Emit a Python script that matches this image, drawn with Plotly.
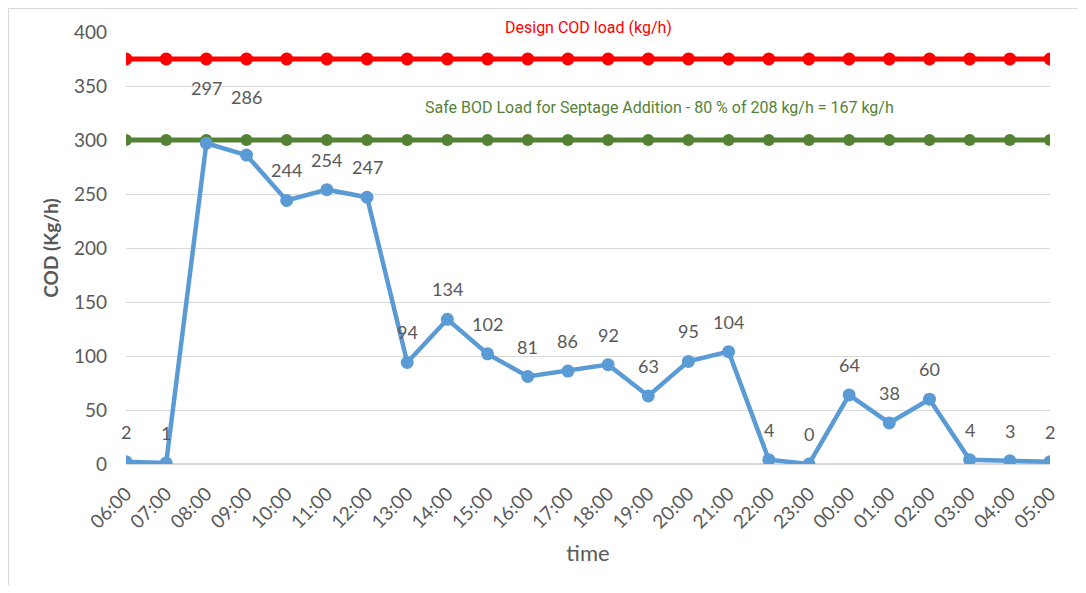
import plotly.graph_objects as go

# hourly COD load readings
times = ["06:00", "07:00", "08:00", "09:00", "10:00", "11:00", "12:00", "13:00",
         "14:00", "15:00", "16:00", "17:00", "18:00", "19:00", "20:00", "21:00",
         "22:00", "23:00", "00:00", "01:00", "02:00", "03:00", "04:00", "05:00"]
cod = [2, 1, 297, 286, 244, 254, 247, 94, 134, 102, 81, 86, 92, 63, 95, 104,
       4, 0, 64, 38, 60, 4, 3, 2]
design_load = [375] * len(times)
safe_load = [300] * len(times)
# label lifts (px) - two labels were dragged up in the original
label_lift = [30] * len(times)
label_lift[2] = 55
label_lift[3] = 58

grey = "#595959"
base_font = "Lato, Calibri, sans-serif"

fig = go.Figure()

fig.add_trace(go.Scatter(x=times, y=design_load, mode="lines+markers",
                         line=dict(color="#FF0000", width=5),
                         marker=dict(color="#FF0000", size=13),
                         showlegend=False))
fig.add_trace(go.Scatter(x=times, y=safe_load, mode="lines+markers",
                         line=dict(color="#548235", width=5),
                         marker=dict(color="#548235", size=12),
                         showlegend=False))
fig.add_trace(go.Scatter(x=times, y=cod, mode="lines+markers",
                         line=dict(color="#5B9BD5", width=4.5),
                         marker=dict(color="#5B9BD5", size=13),
                         showlegend=False))

for t, v, lift in zip(times, cod, label_lift):
    fig.add_annotation(x=t, y=v, text=str(v), showarrow=False, yshift=lift,
                       font=dict(family=base_font, size=18, color=grey))

fig.add_annotation(x=0.5, y=1.0, xref="paper", yref="paper", yanchor="middle", yshift=5,
                   text="Design COD load (kg/h)", showarrow=False,
                   font=dict(family="Roboto", size=16, color="#FF0000"))
fig.add_annotation(x=0.577, y=330, xref="paper", yref="y", yanchor="middle",
                   text="Safe BOD Load for Septage Addition - 80 % of 208 kg/h = 167 kg/h",
                   showarrow=False,
                   font=dict(family="Roboto", size=16, color="#548235"))

# chart frame (only left and top edges fall inside the view)
fig.add_shape(type="rect", xref="paper", yref="paper", x0=-117.5 / 924, x1=1.2,
              y0=-0.5, y1=1 + 23.5 / 432, line=dict(color="#D9D9D9", width=1))

fig.update_xaxes(type="category", range=[0, 23], tickangle=-45,
                 tickfont=dict(family=base_font, size=19, color=grey),
                 showgrid=False, showline=False, ticks="", ticklabelstandoff=14,
                 title=dict(text="time", font=dict(family=base_font, size=22, color=grey),
                            standoff=14))
fig.update_yaxes(range=[0, 400], dtick=50,
                 tickfont=dict(family=base_font, size=19, color=grey), showgrid=True,
                 gridcolor="#D9D9D9", gridwidth=1, zeroline=True, zerolinecolor="#D9D9D9",
                 ticklabelstandoff=18,
                 title=dict(text="<b>COD (Kg/h)</b>",
                            font=dict(family=base_font, size=19, color=grey),
                            standoff=10))

# page body adds an 8px margin, so the figure is sized to fit the window
fig.update_layout(width=1070, height=577, plot_bgcolor="white", paper_bgcolor="white",
                  margin=dict(l=118, r=28, t=24, b=121))

fig.write_html("out.html")
